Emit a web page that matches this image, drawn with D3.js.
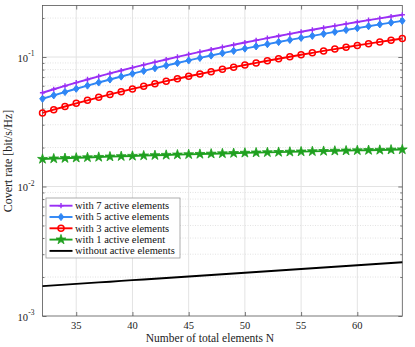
<!DOCTYPE html>
<html><head><meta charset="utf-8">
<script src="https://cdn.jsdelivr.net/npm/d3@7"></script>
<style>
body{margin:0;background:#fff;}
svg{display:block;font-family:"Liberation Serif","Times New Roman",serif;}
</style></head>
<body>
<svg id="chart" width="415" height="347"></svg>
<script>
const N = d3.range(32, 65);
const with7 = [0.0530,0.0564,0.0598,0.0634,0.0671,0.0709,0.0747,0.0787,0.0828,0.0870,0.0913,0.0957,0.1002,0.1048,0.1095,0.1143,0.1193,0.1243,0.1294,0.1346,0.1400,0.1454,0.1509,0.1566,0.1623,0.1682,0.1741,0.1802,0.1863,0.1926,0.1990,0.2054,0.2120];
const with5 = [0.0476,0.0506,0.0537,0.0569,0.0602,0.0636,0.0671,0.0707,0.0744,0.0781,0.0820,0.0860,0.0900,0.0941,0.0984,0.1027,0.1071,0.1116,0.1162,0.1209,0.1257,0.1306,0.1356,0.1406,0.1458,0.1510,0.1564,0.1618,0.1673,0.1730,0.1787,0.1845,0.1904];
const with3 = [0.0370,0.0392,0.0415,0.0439,0.0463,0.0488,0.0514,0.0540,0.0567,0.0594,0.0622,0.0651,0.0680,0.0710,0.0740,0.0771,0.0803,0.0835,0.0868,0.0901,0.0935,0.0970,0.1005,0.1041,0.1077,0.1115,0.1152,0.1190,0.1229,0.1269,0.1309,0.1349,0.1390];
const with1 = [0.01630,0.01642,0.01654,0.01666,0.01677,0.01689,0.01700,0.01711,0.01721,0.01732,0.01742,0.01752,0.01762,0.01771,0.01781,0.01790,0.01800,0.01809,0.01818,0.01826,0.01835,0.01844,0.01852,0.01860,0.01868,0.01877,0.01885,0.01892,0.01900,0.01908,0.01915,0.01923,0.01930];
const without = [0.001700,0.001723,0.001746,0.001769,0.001793,0.001817,0.001841,0.001866,0.001891,0.001916,0.001941,0.001967,0.001994,0.002020,0.002047,0.002075,0.002102,0.002130,0.002159,0.002188,0.002217,0.002247,0.002277,0.002307,0.002338,0.002369,0.002401,0.002433,0.002466,0.002499,0.002532,0.002566,0.002600];
const xTicks = [35,40,45,50,55,60];
const yTicks = [1e-3,1e-2,1e-1];
const yTickExp = ["-3","-2","-1"];
const seriesNames = ["with 7 active elements","with 5 active elements","with 3 active elements","with 1 active element","without active elements"];
const seriesColors = ["#9a2ff5","#2f86f5","#ff0000","#1fa01f","#000000"];
const seriesMarkers = ["plus","diamond","circle","star","none"];
const seriesData = [with7,with5,with3,with1,without];

const svg = d3.select("#chart");
const L=42.5, R=402.3, T=5.5, B=316;
const x = d3.scaleLinear().domain([32,64]).range([L,R]);
const y = d3.scaleLog().domain([1e-3,0.25]).range([B,T]);

const minors=[];
[1e-3,1e-2,1e-1].forEach(d=>{for(let k=2;k<=9;k++){const v=d*k; if(v<=0.25) minors.push(v);}});

const g = svg.append("g");
g.selectAll(".xg").data(xTicks).join("line").attr("x1",d=>x(d)).attr("x2",d=>x(d)).attr("y1",T).attr("y2",B).attr("stroke","#e3e3e3").attr("stroke-width",1);
g.selectAll(".ymg").data(minors).join("line").attr("x1",L).attr("x2",R).attr("y1",d=>y(d)).attr("y2",d=>y(d)).attr("stroke","#dcdcdc").attr("stroke-width",0.8).attr("stroke-dasharray","1,1.5");
g.selectAll(".yg").data([1e-2,1e-1]).join("line").attr("x1",L).attr("x2",R).attr("y1",d=>y(d)).attr("y2",d=>y(d)).attr("stroke","#e3e3e3").attr("stroke-width",1);

const axCol="#555";
function styleAxis(sel){sel.select(".domain").remove();sel.selectAll("line").attr("stroke",axCol).attr("stroke-width",0.8);}
styleAxis(svg.append("g").attr("transform",`translate(0,${B})`).call(d3.axisBottom(x).tickValues(xTicks).tickSize(-4).tickFormat("")));
styleAxis(svg.append("g").attr("transform",`translate(0,${T})`).call(d3.axisTop(x).tickValues(xTicks).tickSize(-4).tickFormat("")));
styleAxis(svg.append("g").attr("transform",`translate(${L},0)`).call(d3.axisLeft(y).tickValues(yTicks).tickSize(-4).tickFormat("")));
styleAxis(svg.append("g").attr("transform",`translate(${R},0)`).call(d3.axisRight(y).tickValues(yTicks).tickSize(-4).tickFormat("")));
styleAxis(svg.append("g").attr("transform",`translate(${L},0)`).call(d3.axisLeft(y).tickValues(minors).tickSize(-2).tickFormat("")));
styleAxis(svg.append("g").attr("transform",`translate(${R},0)`).call(d3.axisRight(y).tickValues(minors).tickSize(-2).tickFormat("")));

svg.selectAll(".xl").data(xTicks).join("text").attr("x",d=>x(d)).attr("y",328.5).attr("text-anchor","middle").attr("font-size",10.5).attr("fill","#222").text(d=>d);
svg.selectAll(".yl").data(yTicks).join("text").attr("x",27.9).attr("y",d=>y(d)+4.6).attr("text-anchor","end").attr("font-size",10.5).attr("fill","#222").text("10");
svg.selectAll(".ye").data(yTicks).join("text").attr("x",28.3).attr("y",d=>y(d)-0.6).attr("font-size",7.5).attr("fill","#222").text((d,i)=>yTickExp[i]);

svg.append("rect").attr("x",L).attr("y",T).attr("width",R-L).attr("height",B-T).attr("fill","none").attr("stroke",axCol).attr("stroke-width",0.8);

const starPath = d3.symbol().type(d3.symbolStar).size(30)();
const diamondPath = "M0,-3.6L2.8,0L0,3.6L-2.8,0Z";
function drawMarker(sel,type,color){
  if(type==="plus"){sel.append("path").attr("d","M-2.6,0H2.6M0,-2.6V2.6").attr("stroke",color).attr("stroke-width",1.4).attr("fill","none");}
  else if(type==="diamond"){sel.append("path").attr("d",diamondPath).attr("fill",color).attr("stroke",color).attr("stroke-width",1);}
  else if(type==="circle"){sel.append("circle").attr("r",3).attr("fill","none").attr("stroke",color).attr("stroke-width",1.5);}
  else if(type==="star"){sel.append("path").attr("d",starPath).attr("fill",color).attr("stroke",color).attr("stroke-width",0.8);}
}
const line = d3.line().x((d,i)=>x(N[i])).y(d=>y(d));
[4,3,2,1,0].forEach(si=>{
  const data=seriesData[si], col=seriesColors[si];
  svg.append("path").datum(data).attr("d",line).attr("fill","none").attr("stroke",col).attr("stroke-width",1.9);
  if(seriesMarkers[si]!=="none"){
    svg.append("g").selectAll("g").data(data).join("g").attr("transform",(d,i)=>`translate(${x(N[i])},${y(d)})`).each(function(){drawMarker(d3.select(this),seriesMarkers[si],col);});
  }
});

const lg = svg.append("g");
lg.append("rect").attr("x",46).attr("y",198).attr("width",134).attr("height",60).attr("fill","#fff").attr("stroke","#9a9a9a").attr("stroke-width",0.8);
seriesNames.forEach((nm,i)=>{
  const yy=205.7+i*11.3;
  lg.append("line").attr("x1",49.5).attr("x2",72.5).attr("y1",yy).attr("y2",yy).attr("stroke",seriesColors[i]).attr("stroke-width",1.9);
  drawMarker(lg.append("g").attr("transform",`translate(61,${yy})`),seriesMarkers[i],seriesColors[i]);
  lg.append("text").attr("x",75).attr("y",yy+3.4).attr("font-size",10.5).attr("fill","#111").text(nm);
});

svg.append("text").attr("x",210).attr("y",342).attr("text-anchor","middle").attr("font-size",11.5).attr("fill","#222").text("Number of total elements N");
svg.append("text").attr("transform","translate(12,161) rotate(-90)").attr("text-anchor","middle").attr("font-size",12).attr("fill","#222").text("Covert rate [bit/s/Hz]");
</script>
</body></html>
